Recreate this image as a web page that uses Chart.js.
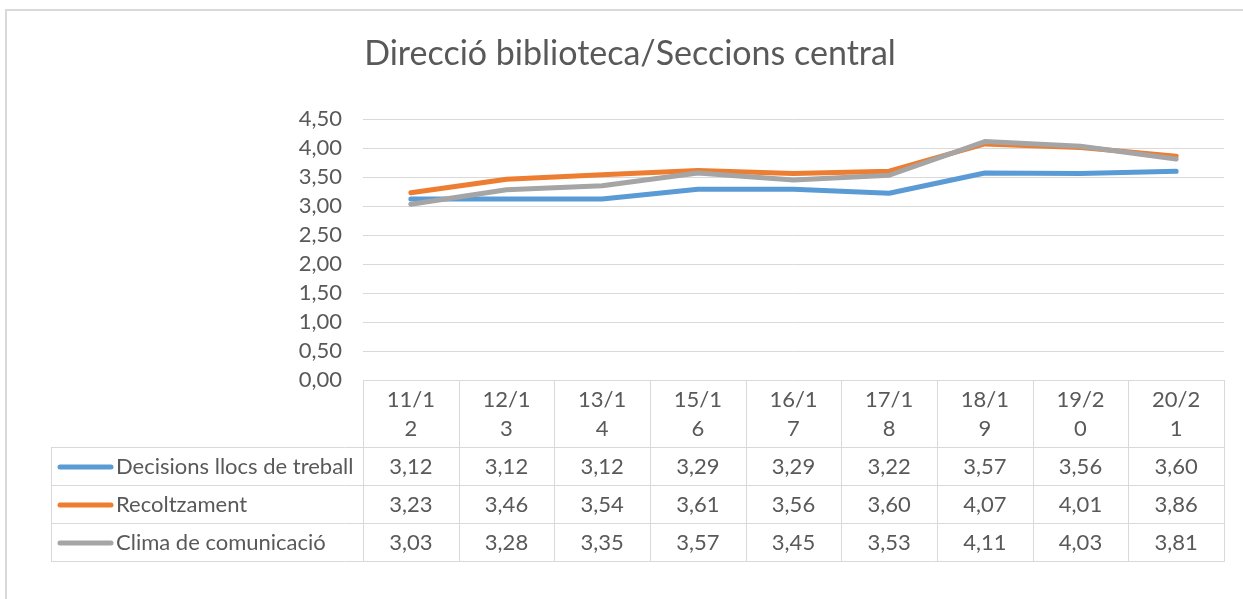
<!DOCTYPE html>
<html>
<head>
<meta charset="utf-8">
<script src="https://cdn.jsdelivr.net/npm/chart.js@4"></script>
<style>
html,body{margin:0;padding:0;background:#fff;}
#wrap{width:1243px;height:599px;position:relative;}
</style>
</head>
<body>
<div id="wrap"><canvas id="c" width="1243" height="599"></canvas></div>
<script>
const categories = ['11/12','12/13','13/14','15/16','16/17','17/18','18/19','19/20','20/21'];
const seriesNames = ['Decisions llocs de treball','Recoltzament','Clima de comunicació'];
const decisions = [3.12,3.12,3.12,3.29,3.29,3.22,3.57,3.56,3.60];
const recoltzament = [3.23,3.46,3.54,3.61,3.56,3.60,4.07,4.01,3.86];
const clima = [3.03,3.28,3.35,3.57,3.45,3.53,4.11,4.03,3.81];
const yMin = 0, yMax = 4.5, yStep = 0.5;
const titleText = 'Direcció biblioteca/Seccions central';
const seriesColors = ['#5B9BD5','#ED7D31','#A5A5A5'];

const FONT = 'Lato, "Open Sans", sans-serif';
const TEXT = '#595959';
const GRID = '#d9d9d9';
const fmt = v => Number(v).toFixed(2).replace('.', ',');

const allSeries = [decisions, recoltzament, clima];

const tablePlugin = {
  id: 'tablePlugin',
  afterDraw(chart) {
    const ctx = chart.ctx;
    const area = chart.chartArea;
    const xs = chart.scales.x;
    const n = categories.length;
    const colW = (area.right - area.left) / n;
    const headerBottom = 447, rowH = 38, tableLeft = 51;
    const tableBottom = headerBottom + rowH * allSeries.length;
    ctx.save();
    // outer border
    ctx.strokeStyle = GRID;
    ctx.lineWidth = 2;
    ctx.beginPath();
    ctx.moveTo(6, 599); ctx.lineTo(6, 10); ctx.lineTo(1243, 10);
    ctx.stroke();
    // title
    ctx.fillStyle = TEXT;
    ctx.font = '34px ' + FONT;
    ctx.textAlign = 'center';
    ctx.textBaseline = 'middle';
    ctx.fillText(titleText, 630, 54);
    // table grid
    ctx.lineWidth = 1;
    ctx.strokeStyle = GRID;
    ctx.beginPath();
    for (let i = 0; i <= n; i++) {
      const x = Math.round(area.left + colW * i) + 0.5;
      ctx.moveTo(x, area.bottom); ctx.lineTo(x, tableBottom);
    }
    ctx.moveTo(tableLeft + 0.5, headerBottom); ctx.lineTo(tableLeft + 0.5, tableBottom);
    for (let r = 0; r <= allSeries.length; r++) {
      const y = headerBottom + rowH * r + 0.5;
      ctx.moveTo(tableLeft, y); ctx.lineTo(Math.round(area.right) + 1, y);
    }
    ctx.stroke();
    // header labels (wrapped)
    ctx.font = '22px ' + FONT;
    ctx.fillStyle = TEXT;
    ctx.textAlign = 'center';
    ctx.textBaseline = 'middle';
    categories.forEach((c, i) => {
      const cx = xs.getPixelForValue(i);
      ctx.fillText(c.slice(0, 4), cx, 400);
      ctx.fillText(c.slice(4), cx, 429);
    });
    // rows
    allSeries.forEach((s, r) => {
      const cy = headerBottom + rowH * r + rowH / 2 + 1;
      // legend key
      ctx.strokeStyle = seriesColors[r];
      ctx.lineWidth = 5;
      ctx.lineCap = 'round';
      ctx.beginPath();
      ctx.moveTo(60, cy); ctx.lineTo(111, cy);
      ctx.stroke();
      ctx.fillStyle = TEXT;
      ctx.textAlign = 'left';
      ctx.fillText(seriesNames[r], 116, cy);
      ctx.textAlign = 'center';
      s.forEach((v, i) => {
        ctx.fillText(fmt(v), xs.getPixelForValue(i), cy);
      });
    });
    ctx.restore();
  }
};

new Chart(document.getElementById('c'), {
  type: 'line',
  data: {
    labels: categories,
    datasets: allSeries.map((s, i) => ({
      label: seriesNames[i],
      data: s,
      borderColor: seriesColors[i],
      backgroundColor: seriesColors[i],
      borderWidth: 5,
      pointRadius: 0,
      pointHoverRadius: 0,
      tension: 0,
      borderCapStyle: 'round',
      borderJoinStyle: 'round',
      order: 3 - i
    }))
  },
  options: {
    responsive: false,
    animation: false,
    events: [],
    layout: { padding: { top: 119, left: 10, right: 19, bottom: 219 } },
    plugins: {
      legend: { display: false },
      title: { display: false },
      tooltip: { enabled: false }
    },
    scales: {
      x: {
        display: false,
        offset: true
      },
      y: {
        min: yMin,
        max: yMax,
        afterFit(scale) { scale.width = 353; },
        ticks: {
          stepSize: yStep,
          autoSkip: false,
          color: TEXT,
          font: { family: FONT, size: 22 },
          padding: 21,
          callback: v => fmt(v)
        },
        grid: { color: GRID, lineWidth: 1, drawTicks: false },
        border: { display: false }
      }
    }
  },
  plugins: [tablePlugin]
});
</script>
</body>
</html>
